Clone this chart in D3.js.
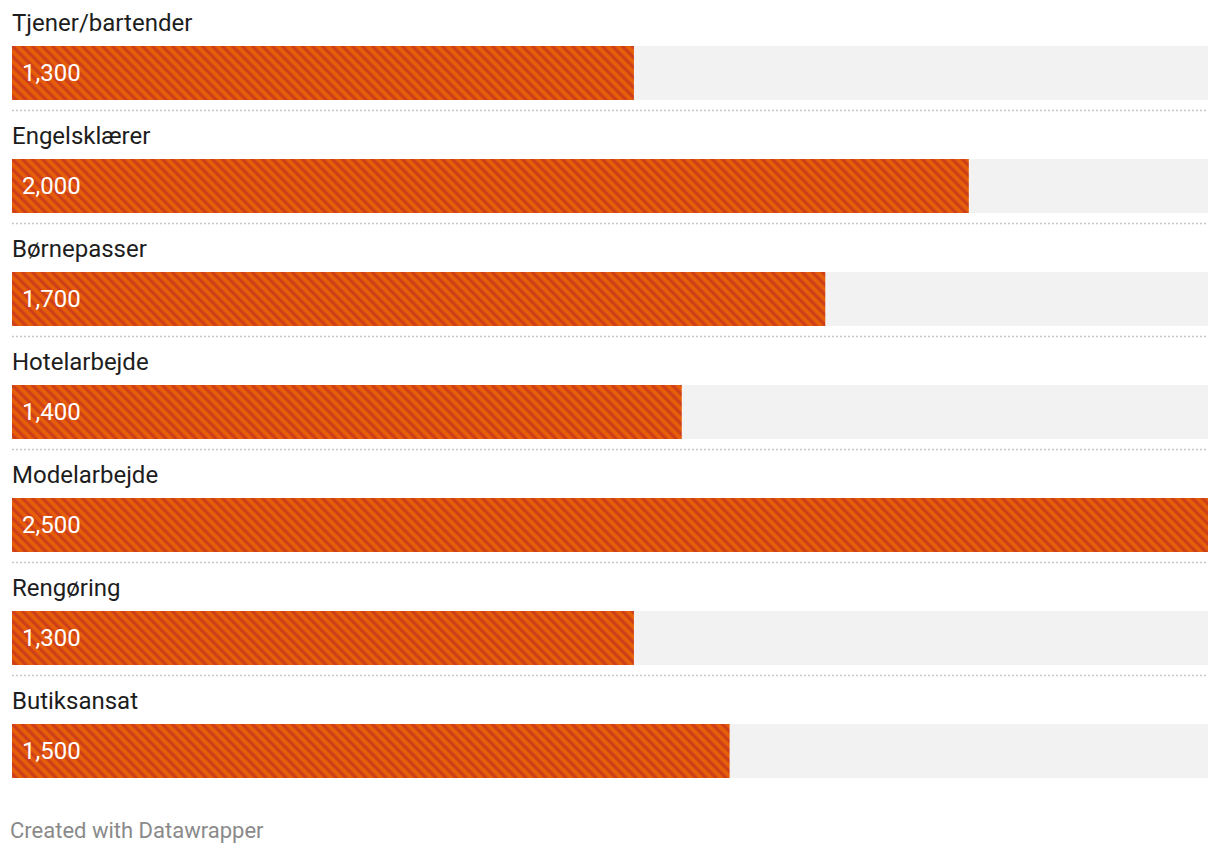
<!DOCTYPE html>
<html>
<head>
<meta charset="utf-8">
<script src="https://cdn.jsdelivr.net/npm/d3@7"></script>
<style>
  body { margin: 0; background: #fff; font-family: Roboto, "Noto Sans", sans-serif; }
</style>
</head>
<body>
<div id="chart"></div>
<script>
// chart data
const categories = ["Tjener/bartender", "Engelsklærer", "Børnepasser", "Hotelarbejde", "Modelarbejde", "Rengøring", "Butiksansat"];
const values = [1300, 2000, 1700, 1400, 2500, 1300, 1500];
const maxValue = 2500;

const width = 1220, height = 854;
const left = 12, right = 1208;

const svg = d3.select("#chart").append("svg")
    .attr("width", width)
    .attr("height", height);

// striped fill
const period = 7.07;
const pat = svg.append("defs").append("pattern")
    .attr("id", "stripes")
    .attr("patternUnits", "userSpaceOnUse")
    .attr("width", period)
    .attr("height", period)
    .attr("patternTransform", "rotate(-45)");
pat.append("rect").attr("width", period).attr("height", period).attr("fill", "#e65e08");
pat.append("rect").attr("width", period * 0.45).attr("height", period).attr("fill", "#cd3e1b");

let x = d3.scaleLinear().domain([0, maxValue]).range([left, right]);
let y = d3.scaleBand().domain(categories).range([46, 46 + 113 * categories.length]).paddingInner(0);
const barH = 54;

let row = svg.selectAll("g.row")
    .data(categories)
    .enter().append("g")
    .attr("class", "row")
    .attr("transform", d => "translate(0," + y(d) + ")");

// background track
row.append("rect")
    .attr("x", x(0))
    .attr("width", x(maxValue) - x(0))
    .attr("height", barH)
    .attr("fill", "#f2f2f2");

row.append("rect")
    .attr("x", x(0))
    .attr("width", (d, i) => x(values[i]) - x(0))
    .attr("height", barH)
    .attr("fill", "url(#stripes)");

row.append("text")
    .attr("x", left)
    .attr("y", -15)
    .attr("font-size", 24)
    .attr("fill", "#1d1d1d")
    .text(d => d);

row.append("text")
    .attr("x", left + 10)
    .attr("y", 34.5)
    .attr("font-size", 24)
    .attr("fill", "#fff")
    .text((d, i) => d3.format(",")(values[i]));

// dotted separators
row.filter((d, i) => i < categories.length - 1)
    .append("line")
    .attr("x1", left)
    .attr("x2", right)
    .attr("y1", 64.5)
    .attr("y2", 64.5)
    .attr("stroke", "#c8c8c8")
    .attr("stroke-width", 1.5)
    .attr("stroke-dasharray", "2,2");

svg.append("text")
    .attr("x", 10)
    .attr("y", 838)
    .attr("font-size", 22)
    .attr("fill", "#8a8a8a")
    .text("Created with Datawrapper");
</script>
</body>
</html>
